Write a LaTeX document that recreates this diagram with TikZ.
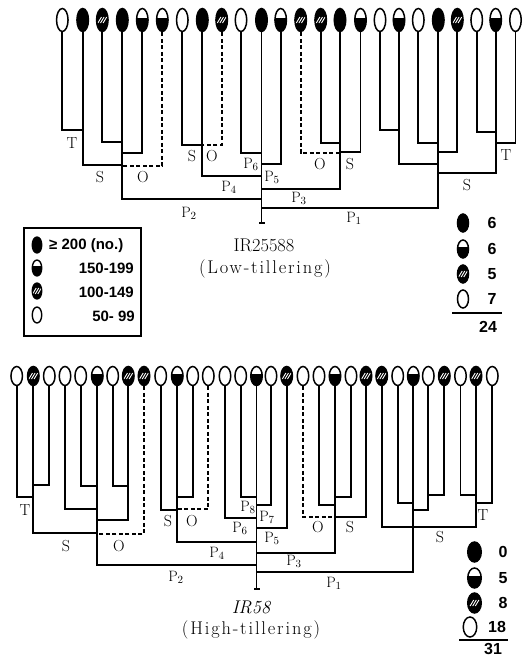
\documentclass[tikz,border=0pt]{standalone}
\usepackage{fontspec}
\usetikzlibrary{shapes.geometric,arrows.meta}
\newfontfamily\legfont{Liberation Sans}
\newfontfamily\spacedfont[LetterSpace=10]{Latin Modern Roman}
\newcommand\br[4][stem]{\draw[#1] (#2) |- (#3 |- 0,#4);}
\begin{document}
\begin{tikzpicture}[x=1pt,y=-1pt,
  stem/.style={line width=1.8pt},
  dstem/.style={line width=1.8pt, dash pattern=on 4pt off 2.5pt},
  headT/.style={ellipse, draw, line width=1.5pt, minimum width=11.5pt, minimum height=23pt, inner sep=0pt},
  headB/.style={ellipse, draw, line width=1.5pt, minimum width=11.5pt, minimum height=19pt, inner sep=0pt},
  headL/.style={ellipse, draw, line width=1.4pt, minimum width=9.5pt, minimum height=16pt, inner sep=0pt},
  headC/.style={ellipse, draw, line width=1.5pt, minimum width=11pt, minimum height=18pt, inner sep=0pt},
  headD/.style={ellipse, draw, line width=1.5pt, minimum width=13.5pt, minimum height=20pt, inner sep=0pt},
  hdW/.style={fill=white},
  hdB/.style={fill=black},
  hdF/.style={fill=white, path picture={\fill[black] (path picture bounding box.south west) rectangle ([yshift=2.2pt]path picture bounding box.east);}},
  hdH/.style={fill=black, path picture={
     \draw[white, line width=0.9pt] ([xshift=-4.4pt,yshift=-3pt]path picture bounding box.center) -- ([xshift=-0.8pt,yshift=3pt]path picture bounding box.center);
     \draw[white, line width=0.9pt] ([xshift=-1.8pt,yshift=-3pt]path picture bounding box.center) -- ([xshift=1.8pt,yshift=3pt]path picture bounding box.center);
     \draw[white, line width=0.9pt] ([xshift=0.8pt,yshift=-3pt]path picture bounding box.center) -- ([xshift=4.4pt,yshift=3pt]path picture bounding box.center);}},
  lab/.style={font=\fontsize{16}{16}\selectfont, inner sep=0pt},
  plab/.style={font=\fontsize{15}{15}\selectfont, inner sep=0pt},
  legtxt/.style={font=\legfont\bfseries\fontsize{15}{15}\selectfont, inner sep=0pt},
  cnt/.style={font=\legfont\bfseries\fontsize{16}{16}\selectfont, inner sep=0pt},
  ttl/.style={font=\fontsize{18.4}{20}\selectfont, inner sep=0pt},
  sttl/.style={font=\spacedfont\fontsize{18.4}{20}\selectfont, inner sep=0pt},
]
\useasboundingbox (0,0) rectangle (527,657);
\fill[white] (0,0) rectangle (527,657);

% ---------------- top tree (IR25588) ----------------
\foreach \i/\x/\s in {1/62.3/hdW,2/82.7/hdB,3/102.3/hdH,4/122.3/hdB,5/142.3/hdF,6/162.3/hdF,7/182.3/hdW,8/202.3/hdB,9/221.7/hdH,10/241/hdW,11/261.5/hdB,12/280.7/hdF,13/300.7/hdH,14/320.7/hdH,15/340/hdB,16/360.5/hdF,17/380/hdW,18/399/hdF,19/418.3/hdW,20/438.3/hdB,21/457.3/hdH,22/476.7/hdW,23/495.7/hdF,24/515.5/hdW}
  \node[headT,\s] (t\i) at (\x,20) {};

\br{t1}{t2}{130}
\br{t3}{t4}{142}
\br{t5}{t4}{153}
\br{t2}{t4}{165}
\br[dstem]{t6}{t4}{166}
\br{t7}{t8}{145}
\br[dstem]{t9}{t8}{145}
\br{t14}{t15}{143}
\br[dstem]{t13}{t15}{153}
\br{t16}{t15}{152}
\br{t17}{t18}{130}
\br{t18}{t20}{164}
\br{t19}{t20}{143}
\br{t21}{t20}{152}
\br{t22}{t23}{132}
\br{t24}{t23}{143}
\br{t23}{t20}{173}
\br{t4}{t11}{199}
\br{t8}{t11}{176}
\br{t10}{t11}{153}
\br{t12}{t11}{164}
\br{t15}{t11}{189}
\br{t20}{t11}{208}
\coordinate (tbase) at (261.5,224);
\draw[stem,-{Bar[width=6pt]}] (t11) -- (tbase);

\node[lab] (lt1) at (72,143) {T};
\node[lab] (ls1) at (100,177) {S};
\node[lab] (lo1) at (143,177) {O};
\node[lab] (ls2) at (192,156) {S};
\node[lab] (lo2) at (212,156) {O};
\node[plab] (lp6) at (251,164) {P$_6$};
\node[plab] (lp5) at (272,177) {P$_5$};
\node[plab] (lp4) at (229,187) {P$_4$};
\node[plab] (lp2) at (189,213) {P$_2$};
\node[lab] (lo3) at (320,164) {O};
\node[lab] (ls3) at (350,164) {S};
\node[plab] (lp3) at (299,198) {P$_3$};
\node[plab] (lp1) at (354,218) {P$_1$};
\node[lab] (ls4) at (467,185) {S};
\node[lab] (lt2) at (506,155) {T};

\node[ttl] (title1) at (264,245) {IR25588};
\node[sttl] (sub1) at (265,269) {(Low-tillering)};

% legend
\node[draw, line width=1.4pt, minimum width=117pt, minimum height=108pt, inner sep=0pt] (legbox) at (82.5,282) {};
\node[headL,hdB] (lg1) at (37,245) {};
\node[headL,hdF] (lg2) at (37,268) {};
\node[headL,hdH] (lg3) at (37,291) {};
\node[headL,hdW] (lg4) at (37,315) {};
\node[legtxt, anchor=west] (lgt1) at (49,246) {≥ 200 (no.)};
\node[legtxt, anchor=east] (lgt2) at (134,268) {150-199};
\node[legtxt, anchor=east] (lgt3) at (134,292) {100-149};
\node[legtxt, anchor=east] (lgt4) at (135,316) {50- 99};

% counts top
\node[headC,hdB] (ca1) at (463,223) {};
\node[headC,hdF] (ca2) at (463,249) {};
\node[headC,hdH] (ca3) at (463,274) {};
\node[headC,hdW] (ca4) at (463,299) {};
\node[cnt] (na1) at (492,223) {6};
\node[cnt] (na2) at (492,249) {6};
\node[cnt] (na3) at (492,274) {5};
\node[cnt] (na4) at (492,299) {7};
\coordinate (sla) at (452,313);
\coordinate (slb) at (502,313);
\draw[line width=1.3pt] (sla) -- (slb);
\node[cnt] (tota) at (488,327) {24};

% ---------------- bottom tree (IR58) ----------------
\foreach \i/\x/\s in {1/16.7/hdW,2/33.3/hdH,3/49.3/hdW,4/65/hdW,5/80.7/hdW,6/97.3/hdF,7/112.7/hdW,8/128.3/hdH,9/144/hdH,10/160.7/hdW,11/177.3/hdF,12/192.7/hdW,13/208.3/hdW,14/225/hdW,15/240.7/hdW,16/256.5/hdF,17/271/hdW,18/286.7/hdH,19/303/hdW,20/319/hdW,21/335/hdF,22/351/hdW,23/366/hdH,24/381.7/hdH,25/397.7/hdW,26/413.3/hdF,27/428.3/hdW,28/444.3/hdH,29/460.5/hdW,30/476/hdH,31/492.3/hdW}
  \node[headB,\s] (b\i) at (\x,376) {};

\br{b1}{b2}{497}
\br{b3}{b2}{485}
\br{b2}{b6}{533}
\br{b4}{b6}{509}
\br{b5}{b6}{486}
\br{b7}{b8}{486}
\br{b8}{b6}{520}
\br[dstem]{b9}{b6}{534}
\br{b10}{b11}{510}
\br{b12}{b11}{497}
\br[dstem]{b13}{b11}{509}
\br[dstem]{b19}{b21}{517}
\br{b20}{b21}{505}
\br{b22}{b21}{497}
\br{b23}{b21}{517}
\br{b24}{b26}{527}
\br{b25}{b26}{503}
\br{b28}{b27}{495}
\br{b27}{b26}{510}
\br{b29}{b30}{495}
\br{b31}{b30}{503}
\br{b30}{b26}{527}
\br{b6}{b16}{565}
\br{b11}{b16}{542}
\br{b14}{b16}{518}
\br{b15}{b16}{497}
\br{b17}{b16}{505}
\br{b18}{b16}{528}
\br{b21}{b16}{553}
\br{b26}{b16}{572}
\coordinate (bbase) at (256.5,590);
\draw[stem,-{Bar[width=6pt]}] (b16) -- (bbase);

\node[lab] (mt1) at (25,510) {T};
\node[lab] (ms1) at (66,546) {S};
\node[lab] (mo1) at (119,546) {O};
\node[lab] (ms2) at (168,521) {S};
\node[lab] (mo2) at (192,521) {O};
\node[plab] (mp8) at (248,507) {P$_8$};
\node[plab] (mp6) at (240,528) {P$_6$};
\node[plab] (mp4) at (217,553) {P$_4$};
\node[plab] (mp2) at (176,577) {P$_2$};
\node[plab] (mp7) at (267,517) {P$_7$};
\node[plab] (mp5) at (272,538) {P$_5$};
\node[plab] (mp3) at (294,561) {P$_3$};
\node[plab] (mp1) at (334,583) {P$_1$};
\node[lab] (mo3) at (318,527) {O};
\node[lab] (ms3) at (350,527) {S};
\node[lab] (ms4) at (440,537) {S};
\node[lab] (mt2) at (483,515) {T};

\node[ttl, font=\itshape\fontsize{18.4}{20}\selectfont] (title2) at (251,607) {IR58};
\node[sttl] (sub2) at (251,630) {(High-tillering)};

% counts bottom
\node[headD,hdB] (cb1) at (474.5,552) {};
\node[headD,hdF] (cb2) at (474.5,578) {};
\node[headD,hdH] (cb3) at (474.5,603) {};
\node[headD,hdW] (cb4) at (470,627) {};
\node[cnt] (nb1) at (503,552) {0};
\node[cnt] (nb2) at (503,578) {5};
\node[cnt] (nb3) at (503,603) {8};
\node[cnt] (nb4) at (497,627) {18};
\coordinate (slc) at (459,640);
\coordinate (sld) at (508,640);
\draw[line width=1.3pt] (slc) -- (sld);
\node[cnt] (totb) at (493,649) {31};
\end{tikzpicture}
\end{document}
